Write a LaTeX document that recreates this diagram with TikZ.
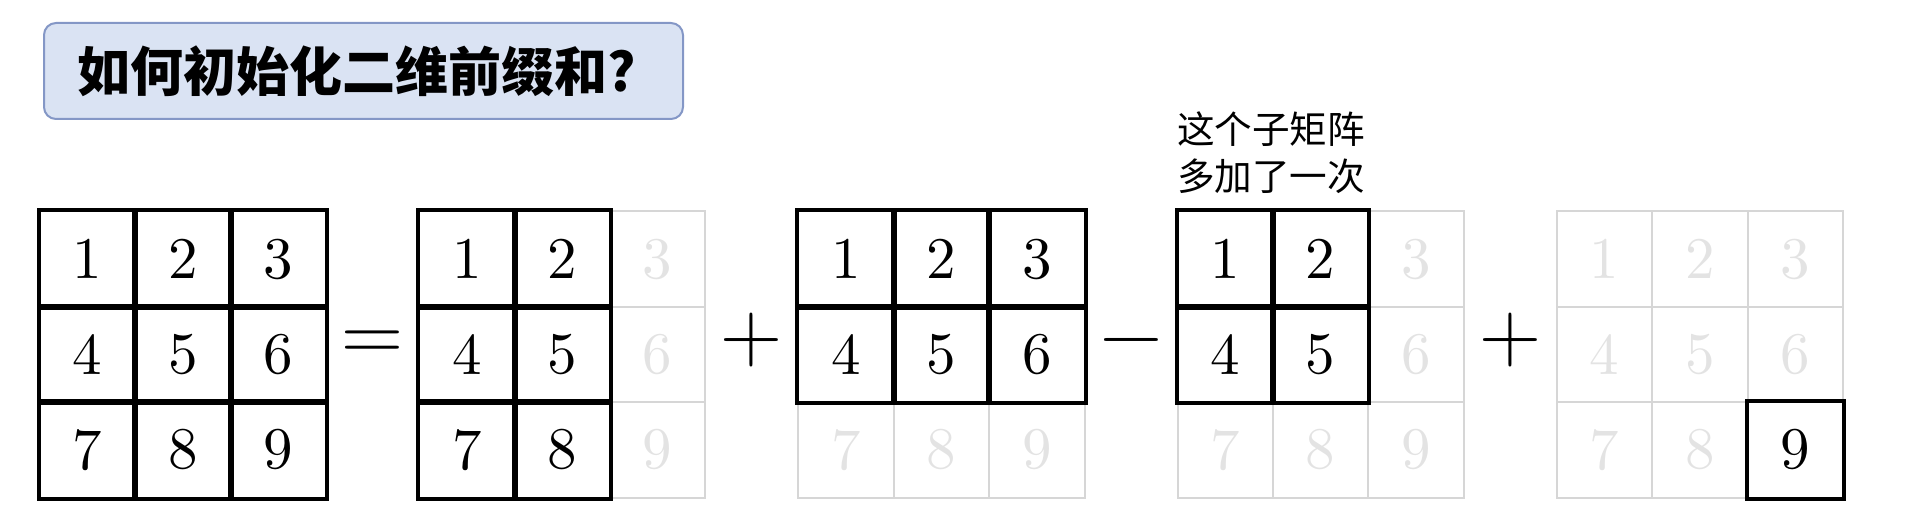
\documentclass[tikz,border=0pt]{standalone}
\usepackage{fontspec}
\newfontfamily\cjk{Noto Sans CJK SC}
\newfontfamily\numfont{lmroman10-regular.otf}
\usetikzlibrary{calc,positioning}
\definecolor{titlefill}{HTML}{DAE3F3}
\definecolor{titleline}{HTML}{8497C6}
\definecolor{dimline}{HTML}{D6D6D6}
\definecolor{dimtext}{HTML}{E3E3E3}

\begin{document}
\begin{tikzpicture}[
  cell/.style={draw=dimline, line width=1pt, minimum size=47.7pt, inner sep=0pt, font=\numfont\fontsize{29.5}{30}\selectfont},
  frame/.style={draw=black, line width=2pt},
  op/.style={inner sep=0pt, text height=.5em, text depth=0pt, font=\fontsize{43}{43}\selectfont},
  note/.style={inner sep=0pt, align=left, font=\cjk\fontsize{18.8}{23.5}\selectfont},
]
\useasboundingbox (0,0) rectangle (953pt,262pt);

\node [draw=titleline, fill=titlefill, line width=1pt, rounded corners=6pt, anchor=north west,
  text width=286.5pt, inner xsep=16.5pt, minimum height=48pt, align=left,
  font=\cjk\bfseries\fontsize{26.5}{26.5}\selectfont] (title) at (21.5pt,251pt) {如何初始化二维前缀和?};

\def\cs{47.7pt}
\newcommand{\grid}[6]{
  \foreach \n in {1,...,9} {
    \pgfmathtruncatemacro\row{(\n-1)/3}
    \pgfmathtruncatemacro\col{mod(\n-1,3)}
    \pgfmathtruncatemacro\on{(\row>=#3)*(\row<=#4)*(\col>=#5)*(\col<=#6)}
    \ifnum\on=1 \def\tc{black}\else\def\tc{dimtext}\fi
    \node [cell, text=\tc] (#1\n) at ({#2+(\col+.5)*\cs}, {156.25pt-(\row+.5)*\cs}) {\n};
  }
  \foreach \n in {1,...,9} {
    \pgfmathtruncatemacro\row{(\n-1)/3}
    \pgfmathtruncatemacro\col{mod(\n-1,3)}
    \pgfmathtruncatemacro\on{(\row>=#3)*(\row<=#4)*(\col>=#5)*(\col<=#6)}
    \ifnum\on=1 \draw [frame] (#1\n.north west) rectangle (#1\n.south east); \fi
  }
}
\grid{A}{20pt}{0}{2}{0}{2}
\grid{B}{209.6pt}{0}{2}{0}{1}
\grid{C}{399.2pt}{0}{1}{0}{2}
\grid{D}{588.8pt}{0}{1}{0}{1}
\grid{E}{778.4pt}{2}{2}{2}{2}

\node [op, yshift=-1.2pt] (eq) at ($(A6.east)!.5!(B4.west)$) {=};
\node [op, yshift=-1.2pt] (plusa) at ($(B6.east)!.5!(C4.west)$) {+};
\node [op, yshift=-1.2pt] (minus) at ($(C6.east)!.5!(D4.west)$) {\char"2212};
\node [op, yshift=-1.2pt] (plusb) at ($(D6.east)!.5!(E4.west)$) {+};

\node [note, above right=8pt and 0pt of D1.north west] (note) {这个子矩阵\\多加了一次};
\end{tikzpicture}
\end{document}
